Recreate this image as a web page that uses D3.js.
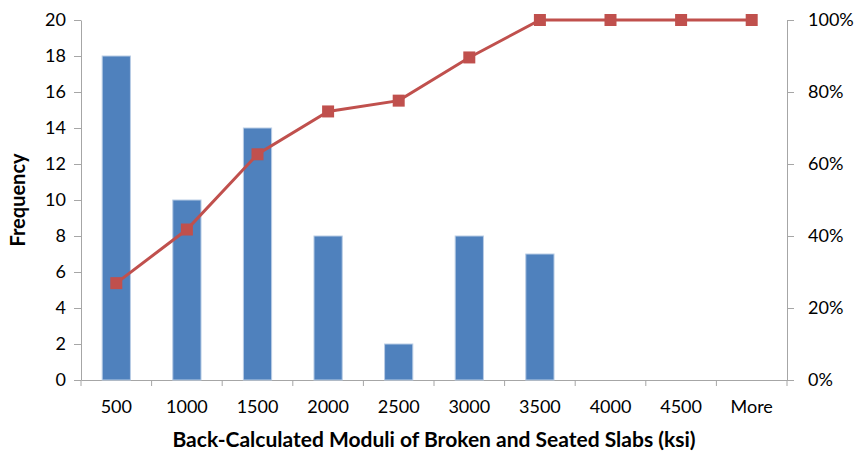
<!DOCTYPE html>
<html>
<head>
<meta charset="utf-8">
<script src="https://cdn.jsdelivr.net/npm/d3@7"></script>
<style>
  body { margin: 0; background: #fff; }
  svg text { font-family: Lato, "Open Sans", sans-serif; fill: #000; }
  .axis path, .axis line { stroke: #a6a6a6; }
</style>
</head>
<body>
<script>
// histogram bins (ksi) and counts
var bins = ['500', '1000', '1500', '2000', '2500', '3000', '3500', '4000', '4500', 'More'];
var frequency = [18, 10, 14, 8, 2, 8, 7, 0, 0, 0];
var cumulative = [26.9, 41.8, 62.7, 74.6, 77.6, 89.6, 100, 100, 100, 100];
var freqTicks = [0, 2, 4, 6, 8, 10, 12, 14, 16, 18, 20];
var pctTicks = [0, 20, 40, 60, 80, 100];

window.onload = drawChart;

function drawChart(){
  var width = 860, height = 454;
  var margin = {top: 20, right: 73, bottom: 74, left: 81};
  var w = width - margin.left - margin.right,
      h = height - margin.top - margin.bottom;

  var svg = d3.select('body').append('svg')
      .attr('width', width)
      .attr('height', height);

  var g = svg.append('g')
      .attr('transform', 'translate(' + margin.left + ',' + margin.top + ')');

  var x = d3.scaleBand().domain(bins).range([0, w]).paddingInner(0.6).paddingOuter(0.3);
  var xc = d3.scaleBand().domain(bins).range([0, w]); // for category ticks
  var y = d3.scaleLinear().domain([0, 20]).range([h, 0]);
  var y2 = d3.scaleLinear().domain([0, 100]).range([h, 0]);

  //left axis
  var yAxis = g.append('g').attr('class', 'axis')
      .call(d3.axisLeft(y).tickValues(freqTicks).tickSize(7).tickPadding(8).tickSizeOuter(0));
  yAxis.selectAll('text').style('font-size', '18px');

  //right axis
  var y2Axis = g.append('g').attr('class', 'axis')
      .attr('transform', 'translate(' + w + ',0)')
      .call(d3.axisRight(y2).tickValues(pctTicks).tickSize(7).tickPadding(14).tickSizeOuter(0)
        .tickFormat(function(d){ return d + '%'; }));
  y2Axis.selectAll('text').style('font-size', '18px');

  //bottom axis, ticks between categories
  var xAxis = g.append('g').attr('class', 'axis')
      .attr('transform', 'translate(0,' + h + ')')
      .call(d3.axisBottom(xc).tickSize(0).tickPadding(20).tickSizeOuter(0));
  xAxis.selectAll('text').style('font-size', '18px');
  xAxis.selectAll('.sep')
      .data(d3.range(bins.length + 1))
      .enter().append('line')
      .attr('class', 'sep')
      .attr('x1', function(i){ return i * xc.step(); })
      .attr('x2', function(i){ return i * xc.step(); })
      .attr('y1', 0).attr('y2', 6)
      .attr('stroke', '#a6a6a6');

  //bars
  g.selectAll('.bar')
      .data(frequency)
      .enter().append('rect')
      .attr('class', 'bar')
      .attr('x', function(d, i){ return x(bins[i]); })
      .attr('y', function(d){ return y(d); })
      .attr('width', x.bandwidth())
      .attr('height', function(d){ return h - y(d); })
      .attr('fill', '#4f81bd')
      .attr('stroke', '#b9cde5')
      .attr('stroke-width', 1);

  //cumulative line
  var line = d3.line()
      .x(function(d, i){ return xc(bins[i]) + xc.bandwidth() / 2; })
      .y(function(d){ return y2(d); });

  g.append('path')
      .datum(cumulative)
      .attr('d', line)
      .attr('fill', 'none')
      .attr('stroke', '#c0504d')
      .attr('stroke-width', 3);

  var ms = 12;
  g.selectAll('.marker')
      .data(cumulative)
      .enter().append('rect')
      .attr('class', 'marker')
      .attr('x', function(d, i){ return xc(bins[i]) + xc.bandwidth() / 2 - ms / 2; })
      .attr('y', function(d){ return y2(d) - ms / 2; })
      .attr('width', ms).attr('height', ms)
      .attr('fill', '#c0504d');

  //axis titles
  svg.append('text')
      .attr('x', margin.left + w / 2)
      .attr('y', 447)
      .attr('text-anchor', 'middle')
      .style('font-size', '21px')
      .style('font-weight', 'bold')
      .text('Back-Calculated Moduli of Broken and Seated Slabs (ksi)');

  svg.append('text')
      .attr('transform', 'translate(25,' + (margin.top + h / 2) + ') rotate(-90)')
      .attr('text-anchor', 'middle')
      .style('font-size', '20px')
      .style('font-weight', 'bold')
      .text('Frequency');
}
</script>
</body>
</html>
